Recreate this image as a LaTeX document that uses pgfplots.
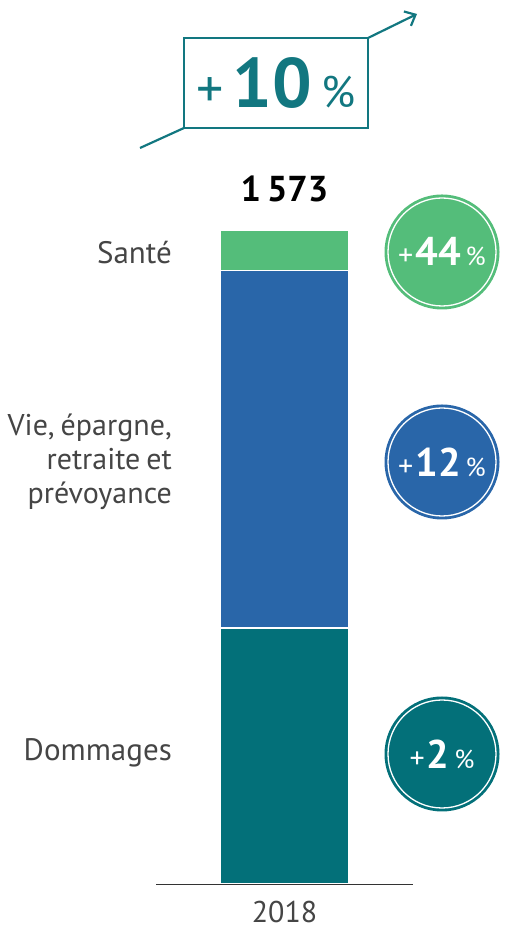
\documentclass[border=0pt]{standalone}
\usepackage{pgfplots}
\pgfplotsset{compat=1.18}
\usepackage{fontspec}
\setmainfont{PT Sans}
\usetikzlibrary{arrows.meta}
\definecolor{sante}{HTML}{54BD7A}
\definecolor{vie}{HTML}{2966A9}
\definecolor{dom}{HTML}{037079}
\definecolor{txt}{HTML}{454545}
\definecolor{arr}{HTML}{127780}
\newcommand\tightsp{\spaceskip=0.2em\relax}
\begin{document}
\begin{tikzpicture}[x=1pt,y=1pt]
\useasboundingbox (0,0) rectangle (508,933);
\begin{axis}[
  at={(156pt,49pt)}, anchor=south west,
  scale only axis, width=257pt, height=654pt,
  xmin=-1, xmax=1, ymin=0, ymax=1573,
  ybar stacked, bar width=129pt,
  axis on top,
  axis x line*=bottom, axis y line=none,
  x axis line style={-, color=black!80, line width=0.9pt},
  xtick={0}, xticklabels={2018}, major tick length=0pt,
  xticklabel style={font=\fontsize{30}{34}\selectfont, text=txt, yshift=-14pt},
  clip=false,
]
\addplot[fill=dom, draw=white, line width=1.5pt] coordinates {(0,616)};
\addplot[fill=vie, draw=white, line width=1.5pt] coordinates {(0,859)};
\addplot[fill=sante, draw=white, line width=1.5pt] coordinates {(0,98)};
\node[font=\bfseries\fontsize{36}{40}\selectfont, text=black] at (axis cs:0,1573) [yshift=41pt] {1\,573};
\end{axis}
% category labels
\begin{scope}[every node/.style={text=txt, font=\fontsize{31}{34}\selectfont, anchor=east, align=right, inner sep=0pt}]
\node at (172,680) {Santé};
\node[font=\fontsize{30}{34}\selectfont] at (172,471) {\tightsp Vie, épargne,\\\tightsp retraite et\\prévoyance};
\node at (172,180) {Dommages};
\end{scope}
% circles
\foreach \y/\c/\v in {681/sante/44, 471/vie/12, 179/dom/2}{
  \fill[\c] (442,\y) circle (57.5);
  \draw[white, line width=1.3pt] (442,\y) circle (54);
  \node[text=white, inner sep=0pt] at (442,\y) {\fontsize{30}{34}\selectfont +\kern2pt\textbf{\fontsize{40}{44}\selectfont\v}\,\fontsize{26}{30}\selectfont\%};
}
% top growth indicator
\draw[arr, line width=2.2pt] (140,785) -- (184,805);
\draw[arr, line width=2.2pt, -{Straight Barb[length=9pt, width=16pt, line width=2.2pt]}] (368,895) -- (417,919);
\draw[arr, line width=1.3pt] (184,805) rectangle (368,895);
\node[text=arr, inner sep=0pt] at (276,850) {\fontsize{54}{60}\selectfont +\,\textbf{\fontsize{70}{76}\selectfont 10}\,\fontsize{44}{50}\selectfont\%};
\end{tikzpicture}
\end{document}
